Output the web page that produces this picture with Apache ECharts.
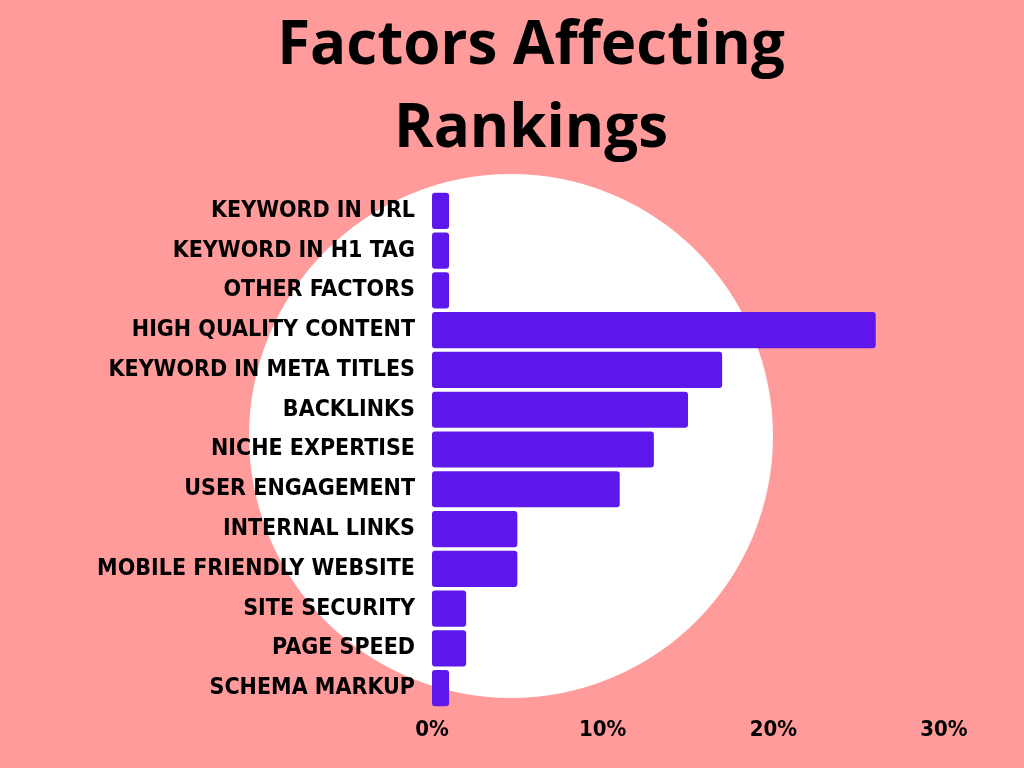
<!DOCTYPE html>
<html><head><meta charset="utf-8">
<script src="https://cdn.jsdelivr.net/npm/echarts@6/dist/echarts.min.js"></script>
<style>html,body{margin:0;padding:0;background:#FF9B9B}#c{width:1024px;height:768px}</style>
</head><body><div id="c"></div>
<script>
const categories = ["KEYWORD IN URL","KEYWORD IN H1 TAG","OTHER FACTORS","HIGH QUALITY CONTENT","KEYWORD IN META TITLES","BACKLINKS","NICHE EXPERTISE","USER ENGAGEMENT","INTERNAL LINKS","MOBILE FRIENDLY WEBSITE","SITE SECURITY","PAGE SPEED","SCHEMA MARKUP"];
const values = [1,1,1,26,17,15,13,11,5,5,2,2,1];
const xTicks = [0,10,20,30];
const titleText = 'Factors Affecting\nRankings';

const chart = echarts.init(document.getElementById('c'));
chart.setOption({
  backgroundColor: '#FF9B9B',
  animation: false,
  graphic: [{
    type: 'circle', z: -10, silent: true,
    shape: {cx: 511, cy: 436, r: 262},
    style: {fill: '#ffffff'}
  }, {
    type: 'text', silent: true, x: 531, y: 5,
    style: {text: titleText, align: 'center', verticalAlign: 'top', fontFamily: 'Open Sans', fontWeight: 'bold', fontSize: 60, lineHeight: 83, fill: '#000'}
  }],
  grid: {left: 432, right: 80, top: 191, bottom: 60},
  xAxis: {
    type: 'value', min: 0, max: 30, interval: 10,
    splitLine: {show: false}, axisLine: {show: false}, axisTick: {show: false},
    axisLabel: {formatter: function(v){ return xTicks.indexOf(v) >= 0 ? v + '%' : ''; }, fontFamily: 'DejaVu Sans Condensed', fontWeight: 'bold', fontSize: 22, color: '#000', margin: 11}
  },
  yAxis: {
    type: 'category', data: categories, inverse: true,
    axisLine: {show: false}, axisTick: {show: false},
    axisLabel: {fontFamily: 'DejaVu Sans Condensed', fontWeight: 'bold', fontSize: 23, color: '#000', margin: 17}
  },
  series: [{
    type: 'bar', data: values, barCategoryGap: '9%',
    itemStyle: {color: '#5E17EB', borderRadius: 3}
  }]
});
</script></body></html>
